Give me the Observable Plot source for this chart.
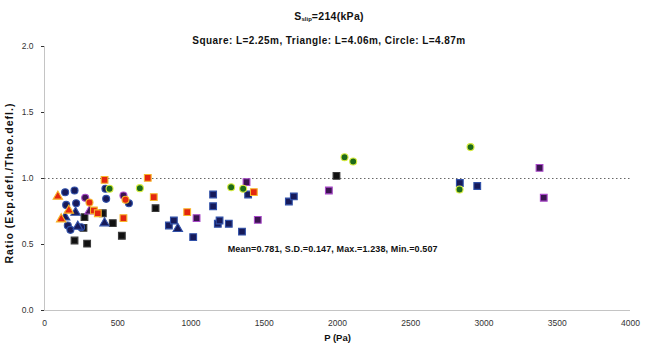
<!DOCTYPE html>
<html><head><meta charset="utf-8">
<script src="https://cdn.jsdelivr.net/npm/d3@7"></script>
<script src="https://cdn.jsdelivr.net/npm/@observablehq/plot@0.6"></script>
<style>
body{margin:0;background:#fff;font-family:"Liberation Sans",Arial,sans-serif}
#wrap{position:relative;width:646px;height:349px;overflow:hidden}
#title{position:absolute;top:10px;left:0;width:658px;text-align:center;font-weight:bold;font-size:10.5px;color:#111;letter-spacing:0.3px}
#title sub{font-size:6px;vertical-align:baseline;position:relative;top:1px;letter-spacing:0}
#subtitle{position:absolute;top:35px;left:0;width:658px;text-align:center;font-weight:bold;font-size:10px;color:#111;letter-spacing:0.45px}
#chart{position:absolute;top:0;left:0}
</style></head>
<body>
<div id="wrap">
<div id="chart"></div>
<div id="title">S<sub>slip</sub>=214(kPa)</div>
<div id="subtitle">Square: L=2.25m, Triangle: L=4.06m, Circle: L=4.87m</div>
</div>
<script>
// ---- data ----
const xTicks = [0, 500, 1000, 1500, 2000, 2500, 3000, 3500, 4000];
const yTicks = [0, 0.5, 1.0, 1.5, 2.0];

const sqBlackP  = [205, 266, 273, 291, 398, 466, 528, 758, 1993];
const sqBlackR  = [0.53, 0.626, 0.707, 0.507, 0.737, 0.662, 0.566, 0.775, 1.02];
const sqNavyP   = [849, 883, 1015, 1151, 1151, 1183, 1195, 1258, 1348, 1390, 1668, 1702, 2835, 2954];
const sqNavyR   = [0.644, 0.682, 0.556, 0.879, 0.79, 0.657, 0.682, 0.657, 0.598, 0.879, 0.826, 0.864, 0.966, 0.943];
const sqRedP    = [337, 364, 410, 539, 705, 746, 974, 1429];
const sqRedR    = [0.758, 0.737, 0.99, 0.70, 1.005, 0.859, 0.745, 0.897];
const sqPurpleP = [1038, 1379, 1456, 1941, 3379, 3408];
const sqPurpleR = [0.70, 0.973, 0.687, 0.909, 1.081, 0.854];
const triRedP    = [91, 114, 166];
const triRedR    = [0.864, 0.692, 0.758];
const triNavyP   = [141, 212, 227, 410, 910];
const triNavyR   = [0.707, 0.742, 0.636, 0.662, 0.619];
const triPurpleP = [307];
const triPurpleR = [0.752];
const ciNavyP   = [141, 148, 159, 177, 205, 216, 250, 416, 421, 576];
const ciNavyR   = [0.896, 0.80, 0.644, 0.611, 0.909, 0.813, 0.631, 0.922, 0.846, 0.813];
const ciPurpleP = [278, 539];
const ciPurpleR = [0.854, 0.871];
const ciRedP    = [307, 553];
const ciRedR    = [0.818, 0.839];
const ciGreenP  = [444, 651, 1274, 1356, 2048, 2107, 2833, 2908];
const ciGreenR  = [0.922, 0.927, 0.934, 0.922, 1.161, 1.129, 0.917, 1.238];

const refRatio = [1.0];
const statsText = ["Mean=0.781, S.D.=0.147, Max.=1.238, Min.=0.507"];
const statsP = [1250];
const statsR = [0.462];
const yTitle = "Ratio (Exp.defl./Theo.defl.)";
const xTitle = "P (Pa)";

// ---- styles ----
const palette = {
  black:  {fill: "#111111", stroke: "#3a3a3a"},
  navy:   {fill: "#161a5a", stroke: "#3050a8"},
  red:    {fill: "#e3260f", stroke: "#f7b52a"},
  purple: {fill: "#3a1450", stroke: "#a848c8"},
  green:  {fill: "#1d6a1a", stroke: "#d8ec40"}
};
const groups = [
  {P: sqBlackP, R: sqBlackR, symbol: "square", color: "black"},
  {P: sqNavyP, R: sqNavyR, symbol: "square", color: "navy"},
  {P: sqPurpleP, R: sqPurpleR, symbol: "square", color: "purple"},
  {P: ciNavyP, R: ciNavyR, symbol: "circle", color: "navy"},
  {P: ciPurpleP, R: ciPurpleR, symbol: "circle", color: "purple"},
  {P: triNavyP, R: triNavyR, symbol: "triangle", color: "navy"},
  {P: triPurpleP, R: triPurpleR, symbol: "triangle", color: "purple"},
  {P: sqRedP, R: sqRedR, symbol: "square", color: "red"},
  {P: triRedP, R: triRedR, symbol: "triangle", color: "red"},
  {P: ciRedP, R: ciRedR, symbol: "circle", color: "red"},
  {P: ciGreenP, R: ciGreenR, symbol: "circle", color: "green"}
];
const sizeFor = {square: 3.8, circle: 3.5, triangle: 3.5};

const dotMarks = groups.map(g => Plot.dot(g.P.map((p, i) => ({P: p, ratio: g.R[i]})), {
  x: "P", y: "ratio", symbol: () => g.symbol, r: sizeFor[g.symbol],
  fill: palette[g.color].fill, stroke: palette[g.color].stroke, strokeWidth: 1.1
}));

const chart = Plot.plot({
  width: 646, height: 349,
  marginLeft: 44, marginRight: 16, marginTop: 46, marginBottom: 39,
  style: {fontFamily: "'Liberation Sans', Arial, sans-serif", fontSize: "8.5px", color: "#333", background: "#fff"},
  symbol: {type: "identity"},
  x: {domain: [0, 4000], ticks: xTicks, tickSize: 0, tickPadding: 9, label: null, tickFormat: d3.format("d")},
  y: {domain: [0, 2], ticks: yTicks, tickSize: 3, tickPadding: 8, label: null, tickFormat: d3.format(".1f")},
  marks: [
    Plot.ruleY([0], {stroke: "#c4c4c4"}),
    Plot.ruleX([0], {stroke: "#c4c4c4"}),
    Plot.ruleY(refRatio, {stroke: "#666", strokeDasharray: "1.5,2.5", strokeWidth: 1}),
    ...dotMarks,
    Plot.text(statsText, {x: statsP, y: statsR, text: d => d, textAnchor: "start", fontWeight: "bold", fontSize: 9, fill: "#111"}),
    Plot.text([yTitle], {frameAnchor: "bottom-left", dx: -32, dy: -47, rotate: -90, textAnchor: "start", text: d => d, fontWeight: "bold", fontSize: 10.5, fill: "#111"}),
    Plot.text([xTitle], {frameAnchor: "bottom", dy: 30, text: d => d, fontWeight: "bold", fontSize: 9.5, fill: "#111"})
  ]
});
d3.select(chart).selectAll("text").each(function () {
  const t = this.textContent;
  if (t === yTitle) { this.setAttribute("textLength", 160); this.setAttribute("lengthAdjust", "spacing"); }
  if (t === statsText[0]) { this.setAttribute("textLength", 210); this.setAttribute("lengthAdjust", "spacing"); }
});
document.getElementById("chart").appendChild(chart);
</script>
</body></html>
